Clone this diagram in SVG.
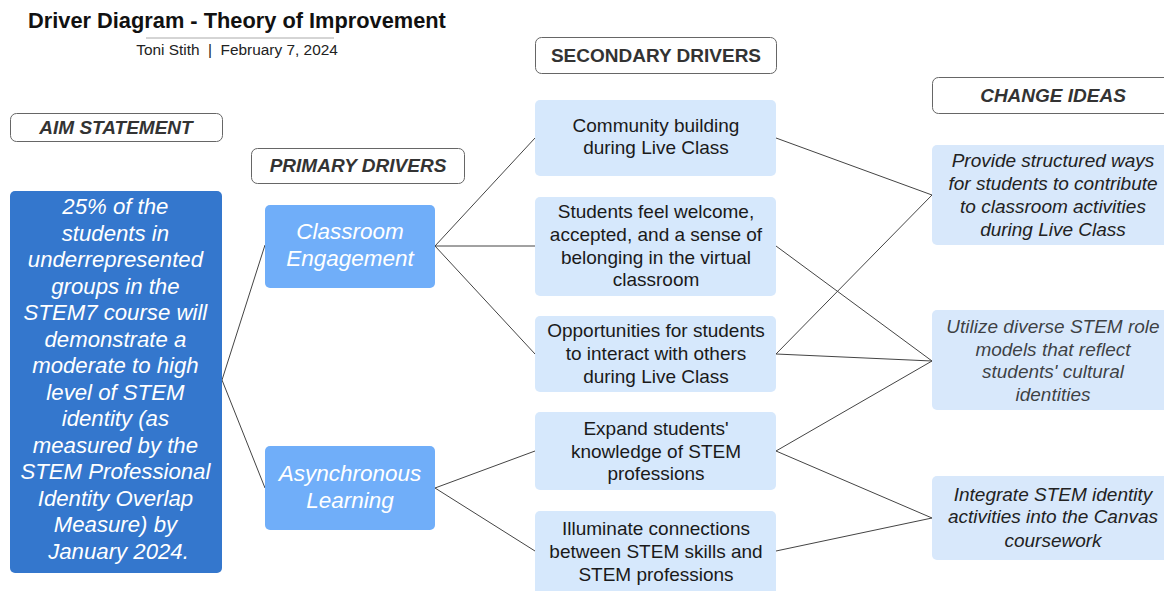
<svg xmlns="http://www.w3.org/2000/svg" width="1164" height="591" viewBox="0 0 1164 591">
  <style>
    text { font-family: "Liberation Sans", Arial, sans-serif; text-anchor: middle; }
    .title { font-size: 21.8px; font-weight: bold; fill: #111; text-anchor: start; }
    .sub { font-size: 15.4px; fill: #222; }
    .hdr { fill: #fff; stroke: #666; stroke-width: 1; }
    .hdrtxt { font-size: 19px; font-weight: bold; font-style: italic; fill: #333; }
    .hdrtxt2 { font-size: 19px; font-weight: bold; fill: #333; }
    .aim { fill: #3477CD; }
    .aimtxt { font-size: 22.2px; font-style: italic; fill: #fff; }
    .prim { fill: #70AEF9; }
    .primtxt { font-size: 22.5px; font-style: italic; fill: #fff; }
    .sec { fill: #D6E8FC; }
    .sectxt { font-size: 19px; fill: #1a1a1a; }
    .chg { fill: #D8E8FB; }
    .chgtxt { font-size: 19px; font-style: italic; fill: #222; }
    .conn line { stroke: #444; stroke-width: 1; }
  </style>

  <!-- heading -->
  <g id="heading">
    <text class="title" x="28" y="28">Driver Diagram - Theory of Improvement</text>
    <line x1="146" y1="38" x2="334" y2="38" stroke="#aaa" stroke-width="1"/>
    <text class="sub" x="237" y="55" xml:space="preserve">Toni Stith  |  February 7, 2024</text>
  </g>

  <!-- connectors -->
  <g id="connectors" class="conn">
    <line x1="222" y1="380" x2="265" y2="245"/>
    <line x1="222" y1="380" x2="265" y2="488"/>
    <line x1="435" y1="246" x2="535" y2="138"/>
    <line x1="435" y1="246" x2="535" y2="246"/>
    <line x1="435" y1="246" x2="535" y2="354"/>
    <line x1="435" y1="488" x2="535" y2="451"/>
    <line x1="435" y1="488" x2="535" y2="551"/>
    <line x1="776" y1="138" x2="932" y2="195"/>
    <line x1="776" y1="246" x2="932" y2="361"/>
    <line x1="776" y1="354" x2="932" y2="195"/>
    <line x1="776" y1="354" x2="932" y2="361"/>
    <line x1="776" y1="451" x2="932" y2="361"/>
    <line x1="776" y1="451" x2="932" y2="518"/>
    <line x1="776" y1="551" x2="932" y2="518"/>
  </g>

  <!-- column headers -->
  <g id="hdr-aim">
    <rect class="hdr" x="10.5" y="113.5" width="212" height="28" rx="6"/>
    <text class="hdrtxt" x="116" y="134">AIM STATEMENT</text>
  </g>
  <g id="hdr-primary">
    <rect class="hdr" x="251.5" y="148.5" width="213" height="35" rx="6"/>
    <text class="hdrtxt" x="358" y="172">PRIMARY DRIVERS</text>
  </g>
  <g id="hdr-secondary">
    <rect class="hdr" x="535.5" y="37.5" width="241" height="36" rx="6"/>
    <text class="hdrtxt2" x="656" y="62">SECONDARY DRIVERS</text>
  </g>
  <g id="hdr-change">
    <rect class="hdr" x="932.5" y="77.5" width="240" height="36" rx="6"/>
    <text class="hdrtxt" x="1053" y="102">CHANGE IDEAS</text>
  </g>

  <!-- aim statement -->
  <g id="aim">
    <rect class="aim" x="10" y="191" width="212" height="382" rx="5"/>
    <text class="aimtxt">
      <tspan x="118.5" y="214">25% of the</tspan>
      <tspan x="118.5" y="240.5">students in</tspan>
      <tspan x="118.5" y="267">underrepresented</tspan>
      <tspan x="118.5" y="293.5">groups in the</tspan>
      <tspan x="118.5" y="320">STEM7 course will</tspan>
      <tspan x="118.5" y="346.5">demonstrate a</tspan>
      <tspan x="118.5" y="373">moderate to high</tspan>
      <tspan x="118.5" y="399.5">level of STEM</tspan>
      <tspan x="118.5" y="426">identity (as</tspan>
      <tspan x="118.5" y="452.5">measured by the</tspan>
      <tspan x="118.5" y="479">STEM Professional</tspan>
      <tspan x="118.5" y="505.5">Identity Overlap</tspan>
      <tspan x="118.5" y="532">Measure) by</tspan>
      <tspan x="118.5" y="558.5">January 2024.</tspan>
    </text>
  </g>

  <!-- primary drivers -->
  <g id="primary-classroom">
    <rect class="prim" x="265" y="205" width="170" height="83" rx="5"/>
    <text class="primtxt"><tspan x="350" y="239">Classroom</tspan><tspan x="350" y="266">Engagement</tspan></text>
  </g>
  <g id="primary-async">
    <rect class="prim" x="265" y="446" width="170" height="84" rx="5"/>
    <text class="primtxt"><tspan x="350" y="481">Asynchronous</tspan><tspan x="350" y="508">Learning</tspan></text>
  </g>

  <!-- secondary drivers -->
  <g id="sec-community">
    <rect class="sec" x="535" y="100" width="241" height="76" rx="5"/>
    <text class="sectxt"><tspan x="656" y="132">Community building</tspan><tspan x="656" y="154">during Live Class</tspan></text>
  </g>
  <g id="sec-welcome">
    <rect class="sec" x="535" y="197" width="241" height="99" rx="5"/>
    <text class="sectxt"><tspan x="656" y="218">Students feel welcome,</tspan><tspan x="656" y="241">accepted, and a sense of</tspan><tspan x="656" y="264">belonging in the virtual</tspan><tspan x="656" y="286">classroom</tspan></text>
  </g>
  <g id="sec-interact">
    <rect class="sec" x="535" y="316" width="241" height="76" rx="5"/>
    <text class="sectxt"><tspan x="656" y="337">Opportunities for students</tspan><tspan x="656" y="360">to interact with others</tspan><tspan x="656" y="383">during Live Class</tspan></text>
  </g>
  <g id="sec-expand">
    <rect class="sec" x="535" y="412" width="241" height="78" rx="5"/>
    <text class="sectxt"><tspan x="656" y="435">Expand students'</tspan><tspan x="656" y="458">knowledge of STEM</tspan><tspan x="656" y="480">professions</tspan></text>
  </g>
  <g id="sec-illuminate">
    <rect class="sec" x="535" y="511" width="241" height="86" rx="5"/>
    <text class="sectxt"><tspan x="656" y="535">Illuminate connections</tspan><tspan x="656" y="558">between STEM skills and</tspan><tspan x="656" y="581">STEM professions</tspan></text>
  </g>

  <!-- change ideas -->
  <g id="chg-structured">
    <rect class="chg" x="932" y="145" width="240" height="100" rx="5"/>
    <text class="chgtxt"><tspan x="1053" y="167">Provide structured ways</tspan><tspan x="1053" y="190">for students to contribute</tspan><tspan x="1053" y="213">to classroom activities</tspan><tspan x="1053" y="236">during Live Class</tspan></text>
  </g>
  <g id="chg-rolemodels">
    <rect class="chg" x="932" y="310" width="240" height="100" rx="5"/>
    <text class="chgtxt" fill-opacity="0.85"><tspan x="1053" y="333">Utilize diverse STEM role</tspan><tspan x="1053" y="356">models that reflect</tspan><tspan x="1053" y="378">students' cultural</tspan><tspan x="1053" y="401">identities</tspan></text>
  </g>
  <g id="chg-canvas">
    <rect class="chg" x="932" y="476" width="240" height="84" rx="5"/>
    <text class="chgtxt"><tspan x="1053" y="501">Integrate STEM identity</tspan><tspan x="1053" y="523">activities into the Canvas</tspan><tspan x="1053" y="547">coursework</tspan></text>
  </g>
</svg>
